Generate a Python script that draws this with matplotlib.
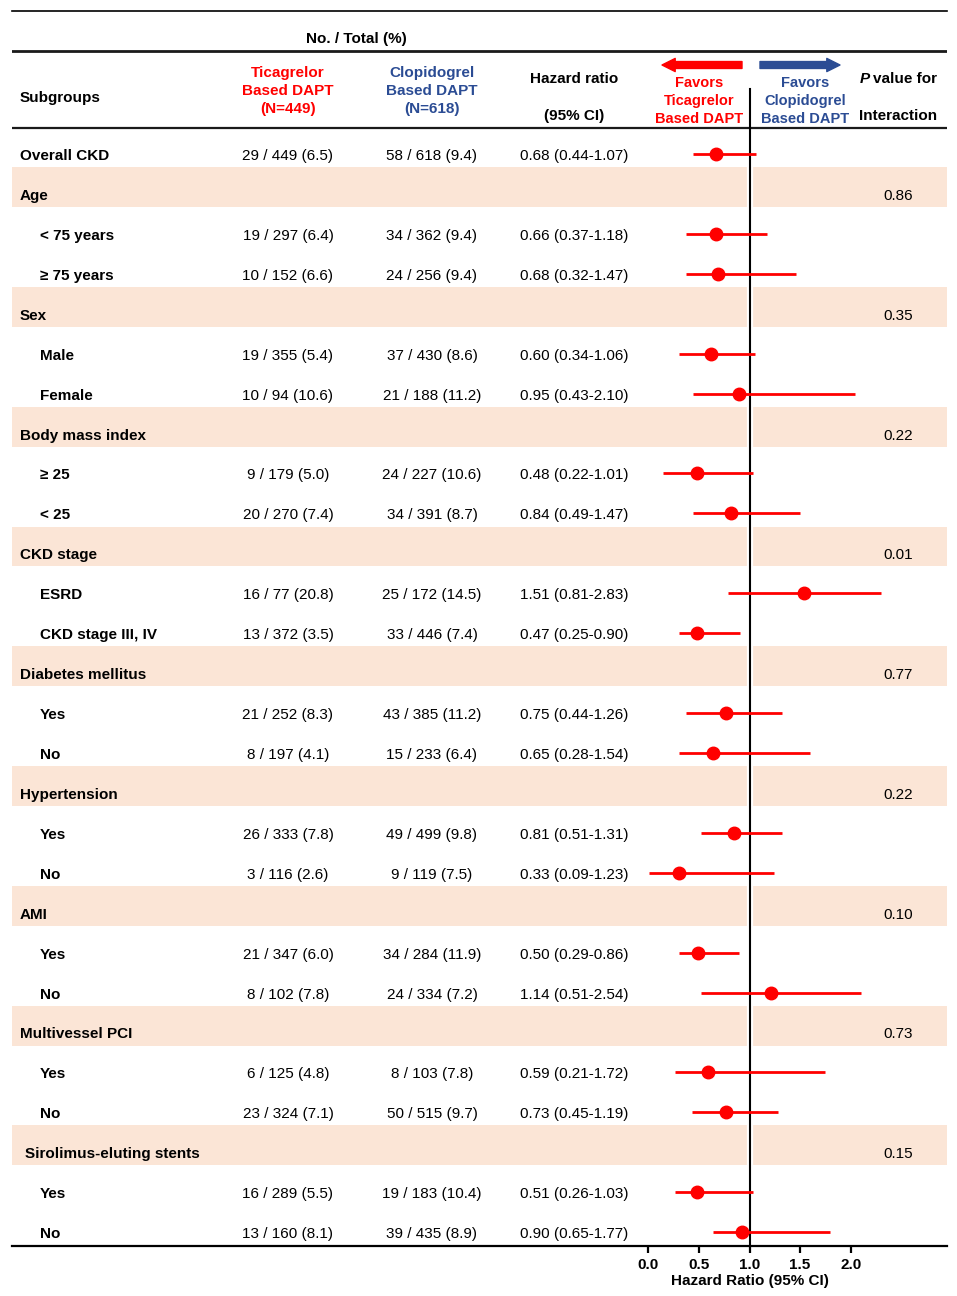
import matplotlib
matplotlib.use("Agg")
import matplotlib.pyplot as plt
import matplotlib.transforms as mtransforms
from matplotlib.patches import FancyArrowPatch
import numpy as np

plt.rcParams['font.family'] = ['Liberation Sans', 'DejaVu Sans']

# ---- data -------------------------------------------------------------
labels = ["Overall CKD", "Age", "< 75 years", "\u2265 75 years",
          "Sex", "Male", "Female",
          "Body mass index", "\u2265 25", "< 25",
          "CKD stage", "ESRD", "CKD stage III, IV",
          "Diabetes mellitus", "Yes", "No",
          "Hypertension", "Yes", "No",
          "AMI", "Yes", "No",
          "Multivessel PCI", "Yes", "No",
          "Sirolimus-eluting stents", "Yes", "No"]
is_group = [1, 1, 0, 0, 1, 0, 0, 1, 0, 0, 1, 0, 0, 1, 0, 0,
            1, 0, 0, 1, 0, 0, 1, 0, 0, 1, 0, 0]
shaded = [0, 1, 0, 0, 1, 0, 0, 1, 0, 0, 1, 0, 0, 1, 0, 0,
          1, 0, 0, 1, 0, 0, 1, 0, 0, 1, 0, 0]

tica = ["29 / 449 (6.5)", "", "19 / 297 (6.4)", "10 / 152 (6.6)",
        "", "19 / 355 (5.4)", "10 / 94 (10.6)",
        "", "9 / 179 (5.0)", "20 / 270 (7.4)",
        "", "16 / 77 (20.8)", "13 / 372 (3.5)",
        "", "21 / 252 (8.3)", "8 / 197 (4.1)",
        "", "26 / 333 (7.8)", "3 / 116 (2.6)",
        "", "21 / 347 (6.0)", "8 / 102 (7.8)",
        "", "6 / 125 (4.8)", "23 / 324 (7.1)",
        "", "16 / 289 (5.5)", "13 / 160 (8.1)"]
clop = ["58 / 618 (9.4)", "", "34 / 362 (9.4)", "24 / 256 (9.4)",
        "", "37 / 430 (8.6)", "21 / 188 (11.2)",
        "", "24 / 227 (10.6)", "34 / 391 (8.7)",
        "", "25 / 172 (14.5)", "33 / 446 (7.4)",
        "", "43 / 385 (11.2)", "15 / 233 (6.4)",
        "", "49 / 499 (9.8)", "9 / 119 (7.5)",
        "", "34 / 284 (11.9)", "24 / 334 (7.2)",
        "", "8 / 103 (7.8)", "50 / 515 (9.7)",
        "", "19 / 183 (10.4)", "39 / 435 (8.9)"]
hr_text = ["0.68 (0.44-1.07)", "", "0.66 (0.37-1.18)", "0.68 (0.32-1.47)",
           "", "0.60 (0.34-1.06)", "0.95 (0.43-2.10)",
           "", "0.48 (0.22-1.01)", "0.84 (0.49-1.47)",
           "", "1.51 (0.81-2.83)", "0.47 (0.25-0.90)",
           "", "0.75 (0.44-1.26)", "0.65 (0.28-1.54)",
           "", "0.81 (0.51-1.31)", "0.33 (0.09-1.23)",
           "", "0.50 (0.29-0.86)", "1.14 (0.51-2.54)",
           "", "0.59 (0.21-1.72)", "0.73 (0.45-1.19)",
           "", "0.51 (0.26-1.03)", "0.90 (0.65-1.77)"]
p_int = ["", "0.86", "", "", "0.35", "", "", "0.22", "", "",
         "0.01", "", "", "0.77", "", "", "0.22", "", "",
         "0.10", "", "", "0.73", "", "", "0.15", "", ""]

nan = np.nan
# values as drawn on the forest plot
hr = np.array([0.67, nan, 0.67, 0.69, nan, 0.62, 0.90, nan, 0.48, 0.82,
               nan, 1.54, 0.48, nan, 0.77, 0.64, nan, 0.85, 0.30,
               nan, 0.49, 1.21, nan, 0.59, 0.77, nan, 0.48, 0.93])
lo = np.array([0.44, nan, 0.37, 0.37, nan, 0.30, 0.44, nan, 0.15, 0.44,
               nan, 0.79, 0.30, nan, 0.37, 0.30, nan, 0.52, 0.01,
               nan, 0.30, 0.52, nan, 0.26, 0.43, nan, 0.26, 0.64])
hi = np.array([1.06, nan, 1.17, 1.46, nan, 1.05, 2.04, nan, 1.03, 1.50,
               nan, 2.30, 0.91, nan, 1.32, 1.60, nan, 1.32, 1.24,
               nan, 0.90, 2.10, nan, 1.75, 1.28, nan, 1.03, 1.80])

xticks = [0.0, 0.5, 1.0, 1.5, 2.0]
xtick_labels = ["0.0", "0.5", "1.0", "1.5", "2.0"]

# ---- layout helpers (pixel based) -------------------------------------
W, H = 957, 1296
ROW0, ROWH = 154, 39.93      # pixel y of first row, row height
X0, XS = 648.3, 101.2        # pixel x of HR=0, pixels per unit
TDY = 0.05                   # text sits slightly below the row centre


def row(py):
    return (py - ROW0) / ROWH


def hx(px):
    return (px - X0) / XS


RED = '#ff0000'
BLUE = '#2b4c94'
BAND = '#fbe5d6'

fig = plt.figure(figsize=(W / 100, H / 100), dpi=100)
ax = fig.add_axes([12 / W, 1 - 1246 / H, (947 - 12) / W, (1246 - 11) / H])
ax.set_xlim(hx(12), hx(947))
ax.set_ylim(row(1246), row(11))

tr = mtransforms.blended_transform_factory(fig.transFigure, ax.transData)


def txt(px, r, s, **kw):
    kw.setdefault('fontsize', 11)
    kw.setdefault('va', 'center')
    return ax.text(px / W, r + TDY, s, transform=tr, **kw)


n = len(labels)
rows = np.arange(n)

# shaded bands for subgroup headers
for i in rows:
    if shaded[i]:
        ax.axhspan(i - 0.67, i + 0.33, color=BAND, lw=0, zorder=0)

# header lines
ax.axhline(row(51), color='#1a1a1a', lw=2.0, zorder=3)
ax.axhline(row(128), color='#1a1a1a', lw=1.6, zorder=3)

# reference line at HR = 1
ax.plot([1, 1], [row(131), row(1244)], color='white', lw=4.5, zorder=1)
ax.plot([1, 1], [row(89), row(1246)], color='black', lw=1.5, zorder=4)

# forest marks
ax.errorbar(hr, rows, xerr=[hr - lo, hi - hr], fmt='o', color=RED,
            ms=9, elinewidth=2, capsize=0, zorder=5)

# table text
for i in rows:
    if i == n - 3:
        x_lab = 25
    elif is_group[i]:
        x_lab = 20
    else:
        x_lab = 40
    txt(x_lab, i, labels[i], fontweight='bold', ha='left')
    txt(288, i, tica[i], ha='center')
    txt(432, i, clop[i], ha='center')
    txt(574, i, hr_text[i], ha='center')
    txt(898, i, p_int[i], ha='center')

# column headers
txt(356, row(37), "No. / Total (%)", fontweight='bold', ha='center')
txt(20, row(96), "Subgroups", fontweight='bold', ha='left')
txt(288, row(89), "Ticagrelor\nBased DAPT\n(N=449)", fontweight='bold',
    ha='center', color=RED, linespacing=1.32)
txt(432, row(89), "Clopidogrel\nBased DAPT\n(N=618)", fontweight='bold',
    ha='center', color=BLUE, linespacing=1.32)
txt(574, row(77), "Hazard ratio", fontweight='bold', ha='center')
txt(574, row(114), "(95% CI)", fontweight='bold', ha='center')
txt(699, row(99), "Favors\nTicagrelor\nBased DAPT", fontweight='bold',
    ha='center', color=RED, fontsize=10.5, linespacing=1.36)
txt(805, row(99), "Favors\nClopidogrel\nBased DAPT", fontweight='bold',
    ha='center', color=BLUE, fontsize=10.5, linespacing=1.36)
txt(860, row(77), "P", fontweight='bold', style='italic', ha='left')
txt(873, row(77), "value for", fontweight='bold', ha='left')
txt(898, row(114), "Interaction", fontweight='bold', ha='center')

# favour arrows
for (xa, xb, c) in [(742, 662, RED), (760, 840, BLUE)]:
    arr = FancyArrowPatch((xa / W, row(65)), (xb / W, row(65)),
                          transform=tr, color=c, mutation_scale=10,
                          arrowstyle='simple,head_length=0.95,head_width=0.95,tail_width=0.5',
                          shrinkA=0, shrinkB=0, zorder=5)
    ax.add_patch(arr)

# axes styling
for side in ['left', 'right']:
    ax.spines[side].set_visible(False)
ax.spines['top'].set_linewidth(1.2)
ax.spines['bottom'].set_linewidth(1.6)
ax.spines['top'].set_zorder(6)
ax.spines['bottom'].set_zorder(6)
ax.set_yticks([])
ax.set_xticks(xticks)
ax.set_xticklabels(xtick_labels, fontweight='bold', fontsize=11)
ax.tick_params(axis='x', direction='out', length=5, width=1.6, pad=3.5)
ax.set_xlabel("Hazard Ratio (95% CI)", fontweight='bold', fontsize=11)
ax.xaxis.set_label_coords((750 - 12) / (947 - 12), -(1274 - 1246) / (1246 - 11))
ax.xaxis.label.set_va('top')

fig.savefig("out.png", dpi=100)
